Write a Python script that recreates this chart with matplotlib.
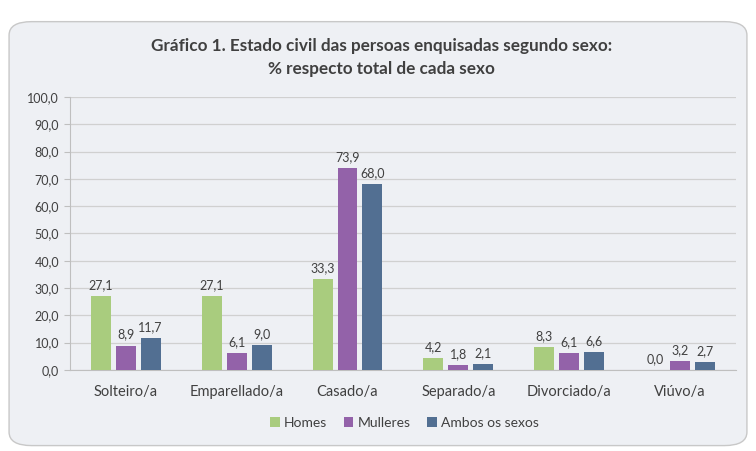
import numpy as np
import matplotlib
matplotlib.use("Agg")
import matplotlib.pyplot as plt
from matplotlib.patches import FancyBboxPatch

plt.rcParams['font.family'] = ['Lato', 'DejaVu Sans']

categories = ['Solteiro/a', 'Emparellado/a', 'Casado/a', 'Separado/a', 'Divorciado/a', 'Viúvo/a']
homes = [27.1, 27.1, 33.3, 4.2, 8.3, 0.0]
mulleres = [8.9, 6.1, 73.9, 1.8, 6.1, 3.2]
ambos = [11.7, 9.0, 68.0, 2.1, 6.6, 2.7]
series_names = ['Homes', 'Mulleres', 'Ambos os sexos']
colors = ['#a9cc7e', '#9362a9', '#526f92']
text_col = '#404040'

fig = plt.figure(figsize=(7.56, 4.51), dpi=100)
fig.patch.set_facecolor('white')

# rounded chart box
box = FancyBboxPatch((0.012, 0.012), 0.976, 0.94, boxstyle="round,pad=0,rounding_size=0.03",
                     transform=fig.transFigure, facecolor='#eef0f4', edgecolor='#c8c8c8',
                     linewidth=1.0, zorder=-10)
fig.patches.append(box)

ax = fig.add_axes([0.093, 0.18, 0.88, 0.605])
ax.set_facecolor('none')
ax.set_zorder(2)

x = np.arange(len(categories))
w = 0.18
step = 0.225
for k, vals in enumerate([homes, mulleres, ambos]):
    pos = x + (k - 1) * step
    ax.bar(pos, vals, width=w, color=colors[k], label=series_names[k], zorder=3)
    for xi, v in zip(pos, vals):
        ax.text(xi, v + 1.8, f'{v:.1f}'.replace('.', ','), ha='center', va='bottom',
                fontsize=9, color=text_col)

ax.set_ylim(0, 100)
ax.set_xlim(-0.5, len(categories) - 0.5)
ticks = np.arange(0, 101, 10)
ax.set_yticks(ticks)
ax.set_yticklabels([f'{t:.1f}'.replace('.', ',') for t in ticks], fontsize=9, color=text_col)
ax.set_xticks(x)
ax.set_xticklabels(categories, fontsize=10.5, color=text_col)
ax.tick_params(axis='x', length=0, pad=11)
ax.tick_params(axis='y', length=4, color='#bfbfbf', pad=4)
ax.grid(axis='y', color='#d0d0d0', linewidth=0.9, zorder=0)
for s in ['top', 'right']:
    ax.spines[s].set_visible(False)
ax.spines['left'].set_color('#bfbfbf')
ax.spines['bottom'].set_color('#bfbfbf')

fig.text(0.505, 0.897, 'Gráfico 1. Estado civil das persoas enquisadas segundo sexo:',
         ha='center', va='center', fontsize=12.3, fontweight='bold', color=text_col)
fig.text(0.505, 0.848, '% respecto total de cada sexo',
         ha='center', va='center', fontsize=12.3, fontweight='bold', color=text_col)

fig.legend(loc='center', bbox_to_anchor=(0.535, 0.062), ncol=3, frameon=False,
           fontsize=10, handlelength=0.7, handleheight=0.7, handletextpad=0.3,
           columnspacing=1.2, labelcolor=text_col)

fig.savefig('out.png', dpi=100)
